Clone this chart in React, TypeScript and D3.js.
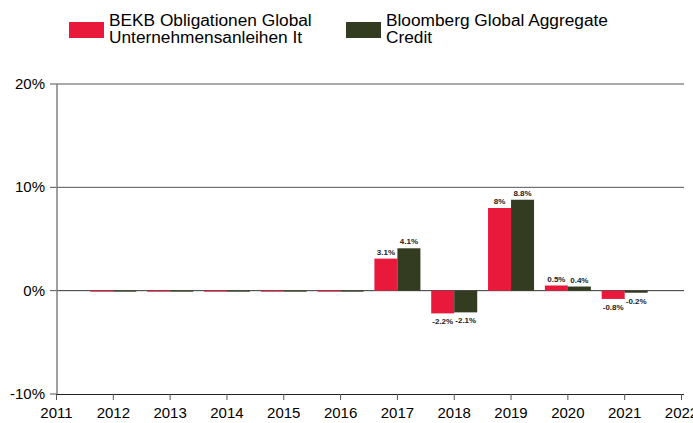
import React from "react";
import * as d3 from "d3";

const years = [2012, 2013, 2014, 2015, 2016, 2017, 2018, 2019, 2020, 2021];
const bekb = [0, 0, 0, 0, 0, 3.1, -2.2, 8, 0.5, -0.8];
const bloomberg = [0, 0, 0, 0, 0, 4.1, -2.1, 8.8, 0.4, -0.2];
const bekbLabels = ["", "", "", "", "", "3.1%", "-2.2%", "8%", "0.5%", "-0.8%"];
const bloombergLabels = ["", "", "", "", "", "4.1%", "-2.1%", "8.8%", "0.4%", "-0.2%"];
const yTicks = [-10, 0, 10, 20];
const xTicks = [2011, 2012, 2013, 2014, 2015, 2016, 2017, 2018, 2019, 2020, 2021, 2022];
const seriesNames = [
  ["BEKB Obligationen Global", "Unternehmensanleihen It"],
  ["Bloomberg Global Aggregate", "Credit"],
];
const colors = ["#e8193a", "#333b21"];

export default function App() {
  const W = 693, H = 423;
  const x = d3.scaleLinear().domain([2011, 2022]).range([56.5, 681.5]);
  const y = d3.scaleLinear().domain([-10, 20]).range([394, 84]);
  const bw = 23;
  const font = "Liberation Sans, Arial, sans-serif";
  return (
    <svg width={W} height={H} style={{ position: "absolute", left: 0, top: 0 }} fontFamily={font}>
      <rect width={W} height={H} fill="#fff" />
      {/* legend */}
      {seriesNames.map((lines, i) => {
        const lx = i === 0 ? 69 : 346;
        return (
          <g key={i}>
            <rect x={lx} y={22} width={35} height={16} fill={colors[i]} />
            {lines.map((t, j) => (
              <text key={j} x={lx + 40} y={26 + j * 16.8} fontSize={17.3} fill="#000">{t}</text>
            ))}
          </g>
        );
      })}
      {/* grid */}
      {yTicks.map((t) => (
        <g key={t}>
          {t !== -10 && (
            <line x1={57} x2={684} y1={y(t)} y2={y(t)} stroke={t === 0 ? "#333" : "#555"} strokeWidth={1} />
          )}
          <line x1={50} x2={57} y1={y(t)} y2={y(t)} stroke="#555" />
          <text x={45} y={y(t) + 5} textAnchor="end" fontSize={15} fill="#000">{t + "%"}</text>
        </g>
      ))}
      {/* bars */}
      {years.map((yr, i) => {
        const cx = x(yr);
        const v1 = bekb[i], v2 = bloomberg[i];
        return (
          <g key={yr}>
            <rect x={cx - bw} y={Math.min(y(v1), y(0))} width={bw} height={Math.max(Math.abs(y(v1) - y(0)), v1 === 0 ? 1 : 0)} fill={colors[0]} />
            <rect x={cx} y={Math.min(y(v2), y(0))} width={bw} height={Math.max(Math.abs(y(v2) - y(0)), v2 === 0 ? 1 : 0)} fill={colors[1]} />
            {bekbLabels[i] && (
              <text x={cx - bw / 2} y={v1 >= 0 ? y(v1) - 4 : y(v1) + 11} textAnchor="middle" fontSize={8} fontWeight="bold" fill="#222">{bekbLabels[i]}</text>
            )}
            {bloombergLabels[i] && (
              <text x={cx + bw / 2} y={v2 >= 0 ? y(v2) - 4 : y(v2) + 11} textAnchor="middle" fontSize={8} fontWeight="bold" fill="#222">{bloombergLabels[i]}</text>
            )}
          </g>
        );
      })}
      {/* axes */}
      <line x1={57} x2={57} y1={84} y2={394} stroke="#808080" strokeWidth={1.5} />
      <line x1={57} x2={684} y1={394.5} y2={394.5} stroke="#222" strokeWidth={1} />
      {xTicks.map((t) => (
        <g key={t}>
          <line x1={x(t)} x2={x(t)} y1={394} y2={400} stroke="#555" />
          <text x={x(t)} y={418} textAnchor="middle" fontSize={15} fill="#000">{t}</text>
        </g>
      ))}
    </svg>
  );
}
